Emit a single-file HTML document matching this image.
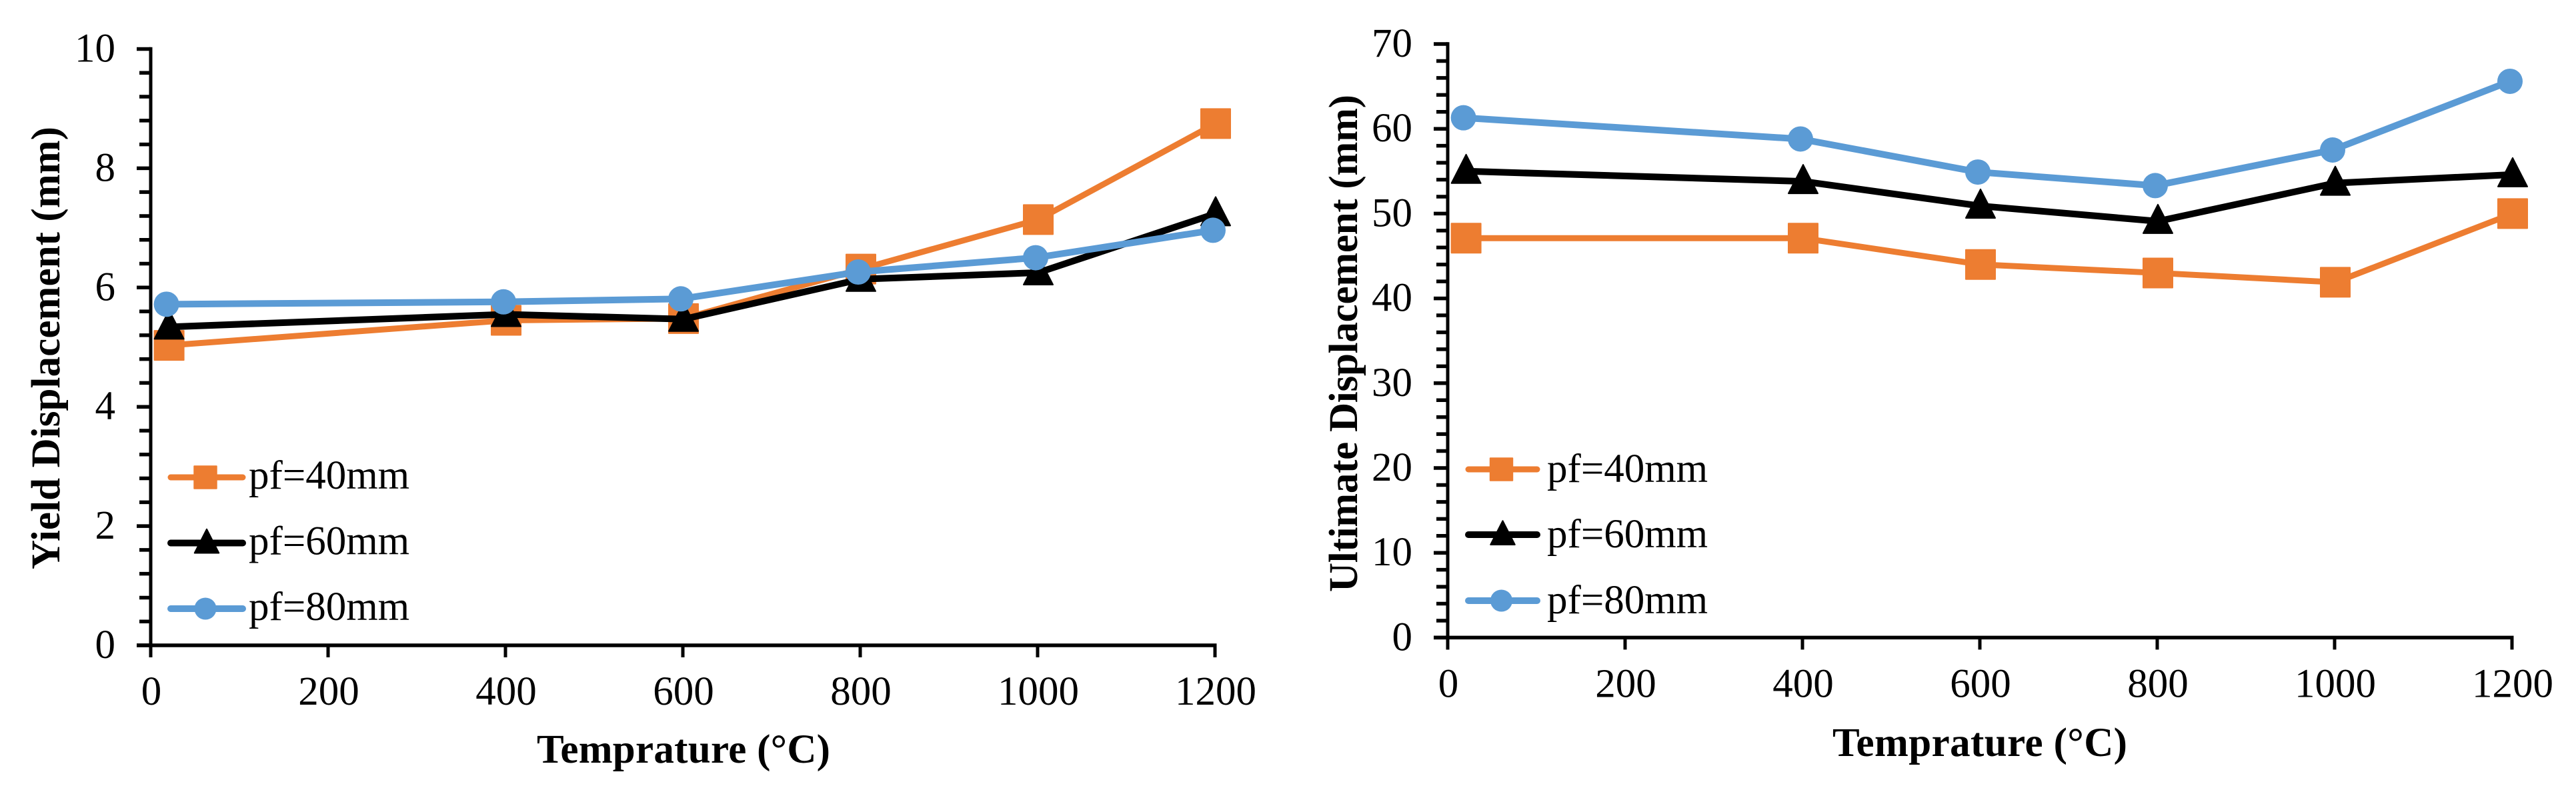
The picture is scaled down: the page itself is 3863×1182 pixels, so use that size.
<!DOCTYPE html>
<html lang="en">
<head>
<meta charset="utf-8">
<title>Yield and Ultimate Displacement vs Temperature</title>
<style>
  html, body { margin: 0; padding: 0; background: #fff; }
  svg { display: block; }
  text { font-family: "Liberation Serif", serif; fill: #000; }
  .tick-label, .legend-label { font-size: 61px; }
  .axis-title { font-size: 61px; font-weight: bold; }
</style>
</head>
<body>
<svg id="figure" xmlns="http://www.w3.org/2000/svg" width="3863" height="1182" viewBox="0 0 3863 1182">
  <rect x="0" y="0" width="3863" height="1182" fill="#fff"/>

  <g id="yield-chart">
    <text class="axis-title" transform="translate(89 854) rotate(-90)" textLength="664" lengthAdjust="spacing">Yield Displacement (mm)</text>
    <text class="axis-title" x="805" y="1144" textLength="440" lengthAdjust="spacing">Temprature (°C)</text>
    <text class="legend-label" x="373" y="733">pf=40mm</text>
    <text class="legend-label" x="373" y="831.5">pf=60mm</text>
    <text class="legend-label" x="373" y="930">pf=80mm</text>
  </g>

  <g id="ultimate-chart">
    <text class="axis-title" transform="translate(2035 888) rotate(-90)" textLength="746" lengthAdjust="spacing">Ultimate Displacement (mm)</text>
    <text class="axis-title" x="2748" y="1134" textLength="442" lengthAdjust="spacing">Temprature (°C)</text>
    <text class="legend-label" x="2320" y="723">pf=40mm</text>
    <text class="legend-label" x="2320" y="821">pf=60mm</text>
    <text class="legend-label" x="2320" y="920">pf=80mm</text>
  </g>
</svg>

<script>
// ---- chart data ----
var temperatures = [20, 400, 600, 800, 1000, 1200];
var xTickLabels = [0, 200, 400, 600, 800, 1000, 1200];

var yieldTickLabels = [0, 2, 4, 6, 8, 10];
var yieldPf40 = [5.03, 5.45, 5.48, 6.31, 7.14, 8.75];
var yieldPf60 = [5.34, 5.55, 5.47, 6.14, 6.25, 7.24];
var yieldPf80 = [5.72, 5.76, 5.81, 6.26, 6.50, 6.96];

var ultimateTickLabels = [0, 10, 20, 30, 40, 50, 60, 70];
var ultimatePf40 = [47.1, 47.1, 44.0, 43.0, 41.9, 50.0];
var ultimatePf60 = [55.0, 53.8, 50.9, 49.1, 53.6, 54.6];
var ultimatePf80 = [61.3, 58.8, 54.9, 53.3, 57.5, 65.6];

// ---- drawing helpers ----
var NS = 'http://www.w3.org/2000/svg';

function make(parent, tag, attrs) {
  var el = document.createElementNS(NS, tag);
  for (var k in attrs) { el.setAttribute(k, attrs[k]); }
  parent.appendChild(el);
  return el;
}

function drawMarker(group, shape, color, cx, cy, scale) {
  var el;
  if (shape === 'square') {
    el = make(group, 'rect', {
      x: cx - 22 * scale, y: cy - 22 * scale,
      width: 44 * scale, height: 44 * scale,
      fill: color, stroke: color, 'stroke-width': 2, 'stroke-linejoin': 'round'
    });
    
  } else if (shape === 'triangle') {
    var pts = [
      [cx, cy - 25 * scale],
      [cx + 22 * scale, cy + 18 * scale],
      [cx - 22 * scale, cy + 18 * scale]
    ].map(function (p) { return p[0] + ',' + p[1]; }).join(' ');
    el = make(group, 'polygon', {
      points: pts, fill: color, stroke: color, 'stroke-width': 2, 'stroke-linejoin': 'round'
    });
    
  } else {
    el = make(group, 'circle', { cx: cx, cy: cy, r: 19 * scale, fill: color });
    
  }
  
}

function drawChart(cfg) {
  var root = document.getElementById(cfg.id);

  function xScale(v) { return cfg.x0 + (v - 0) / 1200 * (cfg.x1 - cfg.x0); }
  function yScale(v) { return cfg.y0 + (v - 0) / cfg.yMax * (cfg.y1 - cfg.y0); }

  var axes = make(root, 'g', {});
  
  

  // vertical axis
  var yLine = make(axes, 'line', { x1: cfg.x0, x2: cfg.x0, y1: yScale(cfg.yMax) - 2.7, y2: cfg.y0 + 18, stroke: '#000', 'stroke-width': 5 });
  
  

  // horizontal axis
  var xLine = make(axes, 'line', { x1: cfg.x0 - 21, x2: cfg.x1 + 2.5, y1: cfg.y0, y2: cfg.y0, stroke: '#000', 'stroke-width': 5.5 });
  
  

  // y ticks: majors with labels, four minor ticks between each pair
  var labels = cfg.yTicks;
  labels.forEach(function (val, i) {
    var tick = make(axes, 'line', { x1: cfg.x0 - 21, x2: cfg.x0, y1: yScale(val), y2: yScale(val), stroke: '#000', 'stroke-width': 5.5 });
    
    

    var label = make(axes, 'text', { x: cfg.x0 - 53, y: yScale(val) + 19, 'text-anchor': 'end', 'class': 'tick-label' });
    label.textContent = val;
    
    

    if (i < labels.length - 1) {
      var step = (labels[i + 1] - val) / 5;
      for (var m = 1; m < 5; m++) {
        var minor = make(axes, 'line', { x1: cfg.x0 - 17, x2: cfg.x0, y1: yScale(val + m * step), y2: yScale(val + m * step), stroke: '#000', 'stroke-width': 5.5 });
        
        
      }
    }
  });

  // x ticks
  xTickLabels.forEach(function (val) {
    var tick = make(axes, 'line', { x1: xScale(val), x2: xScale(val), y1: cfg.y0, y2: cfg.y0 + 18, stroke: '#000', 'stroke-width': 5 });
    
    

    var label = make(axes, 'text', { x: xScale(val) + 1, y: cfg.y0 + 89, 'text-anchor': 'middle', 'class': 'tick-label' });
    label.textContent = val;
    
    
  });

  // series
  cfg.series.forEach(function (s) {
    var group = make(root, 'g', {});
    
    

    var pts = s.values.map(function (v, i) {
      return (xScale(temperatures[i]) + s.dx) + ',' + yScale(v);
    }).join(' ');
    var line = make(group, 'polyline', { points: pts, fill: 'none', stroke: s.color, 'stroke-width': s.width, 'stroke-linejoin': 'round' });
    
    

    s.values.forEach(function (v, i) {
      drawMarker(group, s.shape, s.color, xScale(temperatures[i]) + s.dx, yScale(v), 1);
    });
  });

  // legend keys
  cfg.series.forEach(function (s, i) {
    var key = make(root, 'g', {});
    
    
    var ly = cfg.legendY[i];
    var keyLine = make(key, 'line', { x1: cfg.legendX0, x2: cfg.legendX1, y1: ly, y2: ly, stroke: s.color, 'stroke-width': s.width, 'stroke-linecap': 'round' });
    
    
    var keyScale = s.shape === 'square' ? 0.76 : (s.shape === 'triangle' ? 0.83 : 0.87);
    drawMarker(key, s.shape, s.color, (cfg.legendX0 + cfg.legendX1) / 2 - 2 + (s.shape === 'triangle' ? 2 : 0), ly, keyScale);
  });
}

drawChart({
  id: 'yield-chart',
  x0: 226, x1: 1822, y0: 968, y1: 73.5, yMax: 10,
  yTicks: yieldTickLabels,
  legendX0: 256, legendX1: 364,
  legendY: [716, 814.5, 913],
  series: [
    { name: 'pf40', color: '#ED7D31', shape: 'square', dx: 1, width: 9, values: yieldPf40 },
    { name: 'pf60', color: '#000000', shape: 'triangle', dx: 1, width: 10, values: yieldPf60 },
    { name: 'pf80', color: '#5B9BD5', shape: 'circle', dx: -3, width: 10, values: yieldPf80 }
  ]
});

drawChart({
  id: 'ultimate-chart',
  x0: 2171, x1: 3767, y0: 956.4, y1: 66, yMax: 70,
  yTicks: ultimateTickLabels,
  legendX0: 2202, legendX1: 2305,
  legendY: [704, 802, 901],
  series: [
    { name: 'pf40', color: '#ED7D31', shape: 'square', dx: 1, width: 9, values: ultimatePf40 },
    { name: 'pf60', color: '#000000', shape: 'triangle', dx: 1, width: 10, values: ultimatePf60 },
    { name: 'pf80', color: '#5B9BD5', shape: 'circle', dx: -3, width: 10, values: ultimatePf80 }
  ]
});
</script>
</body>
</html>
